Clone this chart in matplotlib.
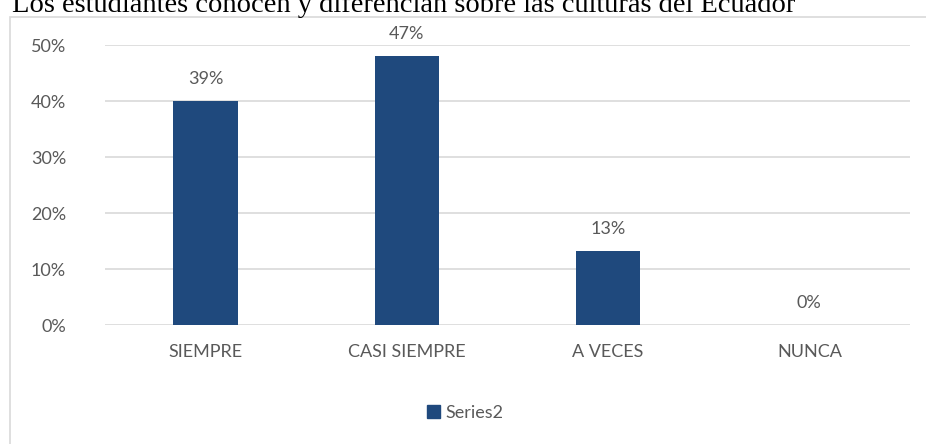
import matplotlib.pyplot as plt
from matplotlib.patches import Rectangle
import numpy as np

categories = ["SIEMPRE", "CASI SIEMPRE", "A VECES", "NUNCA"]
values = [0.40, 0.48, 0.133, 0.0]
value_labels = ["39%", "47%", "13%", "0%"]
y_ticks = [0, 0.1, 0.2, 0.3, 0.4, 0.5]
title = "Los estudiantes conocen y diferencian sobre las culturas del Ecuador"

bar_color = "#1F497D"
text_gray = "#595959"

plt.rcParams['font.family'] = ['Lato', 'DejaVu Sans']

fig = plt.figure(figsize=(9.26, 4.44), dpi=100)
W, H = 926, 444

# chart border (bottom and right edges fall outside the picture)
fig.patches.append(Rectangle((10 / W, -0.1), 1.2, (H - 17) / H + 0.1, transform=fig.transFigure,
                             fill=False, edgecolor="#D9D9D9", linewidth=1.2))

ax = fig.add_axes([105 / W, 1 - 325 / H, (910 - 105) / W, (325 - 45) / H])
x = np.arange(len(categories))
ax.bar(x, values, width=0.32, color=bar_color, zorder=2)
ax.set_xlim(-0.5, len(categories) - 0.5)
ax.set_ylim(0, 0.5)
ax.set_yticks(y_ticks)
ax.set_yticklabels(["%d%%" % round(v * 100) for v in y_ticks])
ax.set_xticks(x)
ax.set_xticklabels(categories)
ax.tick_params(length=0, labelsize=13, colors=text_gray)
ax.tick_params(axis='y', pad=28)
ax.tick_params(axis='x', pad=14)
ax.grid(axis='y', color="#D9D9D9", linewidth=1.2, zorder=0)
for s in ax.spines.values():
    s.set_visible(False)

for xi, v, lab in zip(x, values, value_labels):
    ax.annotate(lab, (xi, v), xytext=(0, 10), textcoords="offset points",
                ha="center", va="bottom", fontsize=13, color=text_gray)

fig.legend(handles=[Rectangle((0, 0), 1, 1, color=bar_color)], labels=["Series2"],
           loc="center", bbox_to_anchor=(465 / W, 1 - 413 / H), frameon=False,
           fontsize=13, labelcolor=text_gray, handlelength=0.7, handleheight=0.7,
           handletextpad=0.3)

fig.text(12 / W, 1 - 5 / H, title, family="Liberation Serif", fontsize=20.5,
         ha="left", va="center", color="black")

fig.savefig("out.png", dpi=100)
